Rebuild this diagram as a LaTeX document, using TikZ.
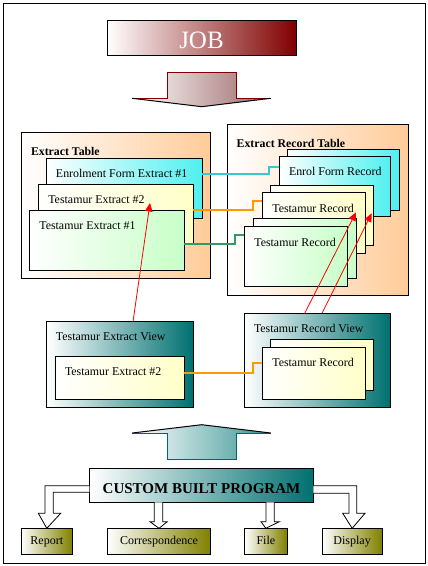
\documentclass[tikz,border=0pt]{standalone}
\usepackage{fontspec}
\setmainfont{Liberation Serif}
\usetikzlibrary{arrows.meta,calc}
\definecolor{jobred}{RGB}{128,0,0}
\definecolor{jobmid}{RGB}{180,140,140}
\definecolor{peach}{RGB}{255,204,153}
\definecolor{palepink}{RGB}{255,228,228}
\definecolor{cyanbox}{RGB}{80,240,240}
\definecolor{yelbox}{RGB}{255,255,200}
\definecolor{grnbox}{RGB}{200,255,200}
\definecolor{tealend}{RGB}{0,112,112}
\definecolor{silver}{RGB}{195,205,205}
\definecolor{oliveend}{RGB}{128,128,0}
\definecolor{olivemid}{RGB}{195,195,165}
\definecolor{cyanline}{RGB}{51,204,204}
\definecolor{orangeline}{RGB}{255,153,0}
\definecolor{greenline}{RGB}{51,153,102}
\definecolor{arrowrose}{RGB}{155,100,100}
\definecolor{arrowteal}{RGB}{60,150,150}
\definecolor{darkteal}{RGB}{0,102,102}
\begin{document}
\begin{tikzpicture}[x=1pt,y=-1pt,
  box/.style={draw=black, line width=0.8pt, inner sep=0pt, outer sep=0pt, anchor=north west},
  peachbox/.style={box, left color=white, middle color=palepink, right color=peach},
  cyanfill/.style={box, left color=white, right color=cyanbox},
  yelfill/.style={box, left color=white, right color=yelbox},
  grnfill/.style={box, left color=white, right color=grnbox},
  tealfill/.style={box, left color=white, middle color=silver, right color=tealend},
  olivefill/.style={box, left color=white, middle color=olivemid, right color=oliveend},
  lbl/.style={inner sep=0pt, outer sep=0pt, anchor=base west, font=\fontsize{11.9}{14}\selectfont},
  blbl/.style={lbl, font=\fontsize{11.8}{14}\selectfont\bfseries},
  olbl/.style={lbl, anchor=base, font=\fontsize{12}{14}\selectfont},
  conn/.style={line width=1.8pt},
  redarr/.style={red, line width=0.8pt, -{Triangle[width=7.5pt,length=8.5pt]}},
  hollow/.style={draw=black, fill=white, line width=0.8pt, line join=miter}]
\useasboundingbox (0,0) rectangle (428,566);
\draw[line width=1pt] (3,3) rectangle (425,563);

% JOB
\node[box, left color=white, middle color=jobmid, right color=jobred, minimum width=189pt, minimum height=35pt] (job) at (107,20) {};
\node[inner sep=0pt, anchor=base, text=white, font=\fontsize{25}{28}\selectfont] (jobt) at (201.5,48.3) {JOB};

% down arrow
\shade[left color=white, right color=arrowrose] (167.3,72.3) -- (236.7,72.3) -- (236.7,98.3) -- (270.7,98.3) -- (201.7,106.7) -- (132.3,98.3) -- (167.3,98.3) -- cycle;
\draw[jobred, line width=0.8pt] (132.3,98.3) -- (167.3,98.3) -- (167.3,72.3) -- (236.7,72.3) -- (236.7,98.3) -- (270.7,98.3);
\draw[black, line width=1pt] (132.3,98.3) -- (201.7,106.7) -- (270.7,98.3);

% Extract Table
\node[peachbox, minimum width=189pt, minimum height=145.3pt] (exttable) at (21.7,132.7) {};
\node[blbl] (exttablet) at (31,155) {Extract Table};
\node[cyanfill, minimum width=156pt, minimum height=60pt] (enrolext) at (46,158.7) {};
\node[lbl] (enrolextt) at (56,177.3) {Enrolment Form Extract \#1};
\node[yelfill, minimum width=154.6pt, minimum height=60pt] (te2) at (38.7,184) {};
\node[lbl] (te2t) at (48.3,203.3) {Testamur Extract \#2};
\node[grnfill, minimum width=155pt, minimum height=60.3pt] (te1) at (29.3,210) {};
\node[lbl] (te1t) at (39.3,229.3) {Testamur Extract \#1};

% Extract Record Table
\node[peachbox, minimum width=181.4pt, minimum height=171pt] (rectable) at (227.3,124.7) {};
\node[blbl] (rectablet) at (236.7,147.3) {Extract Record Table};
\node[cyanfill, minimum width=112pt, minimum height=60.7pt] (enrolrecB) at (287.3,149.3) {};
\node[cyanfill, minimum width=111.4pt, minimum height=60.7pt] (enrolrec) at (279.3,156) {};
\node[lbl] (enrolrect) at (289,175) {Enrol Form Record};
\node[yelfill, minimum width=103.3pt, minimum height=60.4pt] (trmidB) at (270,185.3) {};
\node[yelfill, minimum width=103.3pt, minimum height=60.6pt] (trmid) at (262,192.7) {};
\node[lbl] (trmidt) at (272.3,212) {Testamur Record};
\node[grnfill, minimum width=102.7pt, minimum height=60pt] (trbotB) at (253.3,218.7) {};
\node[grnfill, minimum width=103.7pt, minimum height=60pt] (trbot) at (244,226.7) {};
\node[lbl] (trbott) at (254.3,246) {Testamur Record};

% connectors from extract table
\draw[conn, cyanline] ($(enrolext.north east)+(0,15.6)$) -- ++(67.3,0) -- ++(0,-7.6) -- ($(enrolrec.north west)+(0,10.7)$);
\draw[conn, orangeline] ($(te2.north east)+(0,26)$) -- ++(59.4,0) -- ++(0,-9.3) -- ($(trmid.north west)+(0,8)$);
\draw[conn, greenline] ($(te1.north east)+(0,34)$) -- ++(51,0) -- ++(0,-9) -- ($(trbot.north west)+(0,8.3)$);

% Views
\node[tealfill, minimum width=146.6pt, minimum height=85.6pt] (teview) at (46.7,321.7) {};
\node[lbl] (teviewt) at (56,340) {Testamur Extract View};
\node[yelfill, minimum width=129pt, minimum height=43pt] (teviewin) at (55.3,356.3) {};
\node[lbl] (teviewint) at (65,375) {Testamur Extract \#2};
\node[tealfill, minimum width=145.6pt, minimum height=94pt] (trview) at (244.7,313.3) {};
\node[lbl] (trviewt) at (254,332) {Testamur Record View};
\node[yelfill, minimum width=103.3pt, minimum height=50.7pt] (trviewinB) at (270,339.3) {};
\node[yelfill, minimum width=103.4pt, minimum height=52pt] (trviewin) at (262.3,347.3) {};
\node[lbl] (trviewint) at (272.3,366) {Testamur Record};
\draw[conn, orangeline] ($(teviewin.north east)+(0,16.4)$) -- ++(68.7,0) -- ++(0,-9.4) -- ($(trviewin.north west)+(0,16)$);

% red arrows
\draw[redarr] ($(teview.north west)+(86.3,0)$) -- ($(te2.north west)+(111.3,19)$);
\draw[redarr] ($(trview.north west)+(60,0)$) -- ($(trmid.north west)+(94,19.6)$);
\draw[redarr] ($(trview.north west)+(77.3,0)$) -- ($(trmidB.north west)+(101.7,28)$);

% up arrow
\shade[left color=white, right color=arrowteal] (132.3,433) -- (201.7,424.7) -- (270.7,433) -- (236.7,433) -- (236.7,459.7) -- (167.3,459.7) -- (167.3,433) -- cycle;
\draw[darkteal, line width=0.8pt] (132.3,433) -- (167.3,433) -- (167.3,459.7) -- (236.7,459.7) -- (236.7,433) -- (270.7,433);
\draw[black, line width=1pt] (132.3,433) -- (201.7,424.7) -- (270.7,433);

% output boxes
\node[olivefill, minimum width=51pt, minimum height=25.7pt] (report) at (21.3,528.3) {};
\node[olivefill, minimum width=103.4pt, minimum height=25.7pt] (corr) at (107.3,528.3) {};
\node[olivefill, minimum width=42.3pt, minimum height=25.7pt] (file) at (244.7,528.3) {};
\node[olivefill, minimum width=59.7pt, minimum height=25.7pt] (display) at (322.3,528.3) {};
\node[olbl] (reportt) at ($(report.north)+(0,15.7)$) {Report};
\node[olbl] (corrt) at ($(corr.north)+(0,15.7)$) {Correspondence};
\node[olbl] (filet) at ($(file.north)+(0,15.7)$) {File};
\node[olbl] (displayt) at ($(display.north)+(0,15.7)$) {Display};

% Custom Built Program
\node[tealfill, minimum width=224pt, minimum height=33.3pt] (cbp) at (89.3,468.7) {};
\node[inner sep=0pt, anchor=base, font=\fontsize{15}{18}\selectfont\bfseries] (cbpt) at (201.5,493.3) {CUSTOM BUILT PROGRAM};

% hollow arrows
\draw[hollow] ($(cbp.north west)+(0,17)$) -- (45,485.7) -- (45,513.3) -- (38.3,513.3) -- (report.north) -- (60.7,513.3) -- (53.3,513.3) -- (53.3,492.3) -- ($(cbp.north west)+(0,23.6)$);
\draw[hollow] (154.3,502.3) -- (154.3,521.7) -- (150,521.7) -- (corr.north) -- (167.3,521.7) -- (162.7,521.7) -- (162.7,502.3);
\draw[hollow] (266,502.3) -- (266,521.7) -- (261,521.7) -- (file.north) -- (279.3,521.7) -- (274.3,521.7) -- (274.3,502.3);
\draw[hollow] ($(cbp.north east)+(0,17)$) -- (356.7,485.7) -- (356.7,513.3) -- (365,513.3) -- (display.north) -- (342.7,513.3) -- (349,513.3) -- (349,493.3) -- ($(cbp.north east)+(0,24.6)$);
\end{tikzpicture}
\end{document}
